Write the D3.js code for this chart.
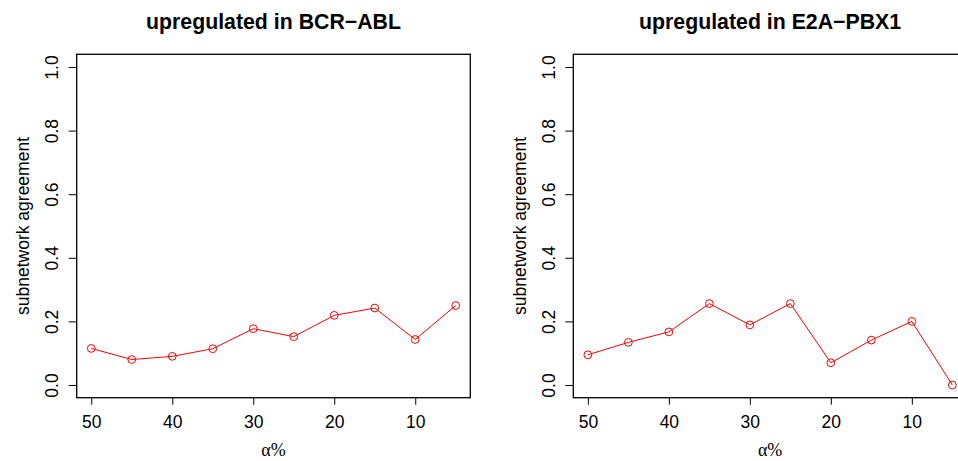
<!DOCTYPE html>
<html>
<head>
<meta charset="utf-8">
<script src="https://cdn.jsdelivr.net/npm/d3@7"></script>
<style>
  html, body { margin: 0; padding: 0; background: #fff; }
  svg { display: block; }
  text { font-family: "Liberation Sans", Arial, Helvetica, sans-serif; fill: #000; }
</style>
</head>
<body>
<svg id="chart" width="958" height="461"></svg>
<script>
// alpha thresholds (percent) on the x axis, shown in decreasing order
const alphaLevels = [50, 45, 40, 35, 30, 25, 20, 15, 10, 5];
const xTicks = [50, 40, 30, 20, 10];
const yTicks = [0, 0.2, 0.4, 0.6, 0.8, 1.0];

const titles = ["upregulated in BCR\u2212ABL", "upregulated in E2A\u2212PBX1"];
const bcrAbl = [0.115, 0.080, 0.090, 0.114, 0.177, 0.152, 0.219, 0.242, 0.143, 0.250];
const e2aPbx1 = [0.095, 0.134, 0.167, 0.256, 0.189, 0.256, 0.070, 0.141, 0.200, 0.0];

const svg = d3.select("#chart");

// plot regions for the two panels
const panels = [
  { x0: 76.7, x1: 470.3, title: titles[0], values: bcrAbl },
  { x0: 573.3, x1: 966.9, title: titles[1], values: e2aPbx1 }
];
const yTop = 54.3, yBottom = 397.7;

panels.forEach(p => {
  const g = svg.append("g");

  // R-style 4% padding around the data range
  const x = d3.scaleLinear().domain([51.8, 3.2]).range([p.x0, p.x1]);
  const y = d3.scaleLinear().domain([-0.04, 1.04]).range([yBottom, yTop]);

  // y axis with rotated tick labels
  const yAxis = g.append("g")
    .attr("transform", `translate(${p.x0},0)`)
    .call(d3.axisLeft(y).tickValues(yTicks).tickSize(8).tickFormat(d3.format(".1f")));
  yAxis.select(".domain").remove();
  yAxis.selectAll(".tick line").attr("stroke", "#000").attr("stroke-width", 1);
  yAxis.selectAll(".tick text")
    .attr("x", null).attr("dy", null)
    .attr("transform", "translate(-18.4,0) rotate(-90)")
    .attr("text-anchor", "middle")
    .style("font-size", "17.5px")
    .style("font-family", "'Liberation Sans', Arial, sans-serif")
    .attr("fill", "#000");

  // x axis
  const xAxis = g.append("g")
    .attr("transform", `translate(0,${yBottom})`)
    .call(d3.axisBottom(x).tickValues(xTicks).tickSize(7).tickFormat(d3.format("d")));
  xAxis.select(".domain").remove();
  xAxis.selectAll(".tick line").attr("stroke", "#000").attr("stroke-width", 1);
  xAxis.selectAll(".tick text")
    .attr("y", 30.8).attr("dy", null)
    .style("font-size", "17.5px")
    .style("font-family", "'Liberation Sans', Arial, sans-serif")
    .attr("fill", "#000");

  // plot box
  g.append("rect")
    .attr("x", p.x0).attr("y", yTop)
    .attr("width", p.x1 - p.x0).attr("height", yBottom - yTop)
    .attr("fill", "none").attr("stroke", "#000").attr("stroke-width", 1.3);

  // series line and open circle markers
  const pts = alphaLevels.map((a, i) => [a, p.values[i]]);
  g.append("path")
    .datum(pts)
    .attr("fill", "none").attr("stroke", "#ff0000").attr("stroke-width", 1)
    .attr("d", d3.line().x(d => x(d[0])).y(d => y(d[1])));
  g.selectAll("circle.pt").data(pts).enter().append("circle")
    .attr("class", "pt")
    .attr("cx", d => x(d[0])).attr("cy", d => y(d[1])).attr("r", 3.9)
    .attr("fill", "none").attr("stroke", "#ff0000").attr("stroke-width", 1);

  const cx = (p.x0 + p.x1) / 2;

  // panel title
  g.append("text")
    .attr("x", cx).attr("y", 28.5)
    .attr("text-anchor", "middle")
    .style("font-size", "21.3px").style("font-weight", "bold")
    .text(p.title);

  // axis titles
  g.append("text")
    .attr("x", cx).attr("y", 456)
    .attr("text-anchor", "middle")
    .style("font-family", "'Liberation Serif', 'Times New Roman', serif")
    .style("font-size", "18px")
    .text("\u03B1%");

  g.append("text")
    .attr("transform", `translate(${p.x0 - 47.4},${(yTop + yBottom) / 2}) rotate(-90)`)
    .attr("text-anchor", "middle")
    .style("font-size", "17.5px")
    .text("subnetwork agreement");
});
</script>
</body>
</html>
